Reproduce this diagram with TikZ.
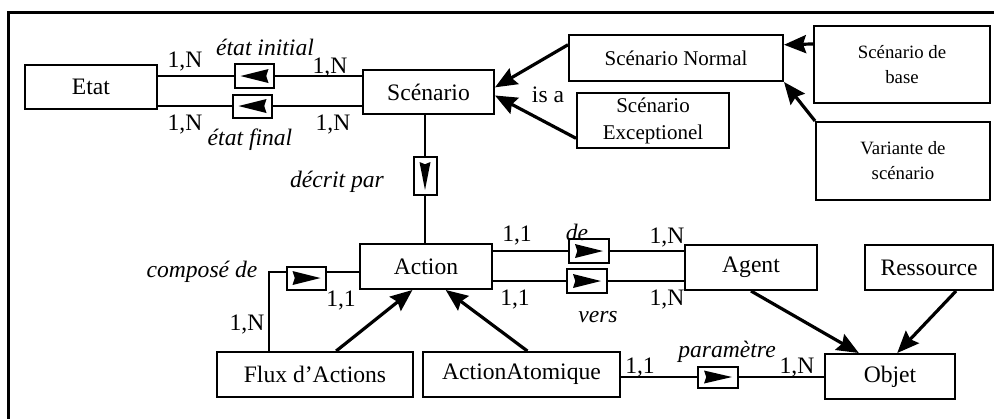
\documentclass[tikz,border=0pt]{standalone}
\usepackage{fontspec}
\setmainfont{Liberation Serif}
\usetikzlibrary{arrows.meta,calc,positioning}
\tikzset{%
	entity/.style  = {draw, rectangle, line width=1pt, inner sep=1pt, align=center, font=\fontsize{11.8}{13}\selectfont},
	entitym/.style = {entity, font=\fontsize{10.5}{13.5}\selectfont},
	entitys/.style = {entity, font=\fontsize{9.4}{12.5}\selectfont},
	relbox/.style  = {draw, rectangle, line width=1pt, inner sep=0pt},
	link/.style    = {line width=0.8pt},
	isa/.style     = {line width=1.6pt, -{Stealth[length=11pt,width=9pt,inset=1.5pt]}},
	card/.style    = {inner sep=0pt, font=\fontsize{11.8}{13}\selectfont},
	role/.style    = {inner sep=0pt, font=\fontsize{11.8}{13}\selectfont\itshape},
}
% filled arrow inside a relation box: node, rotation, length, half width
\newcommand{\relarrow}[4]{%
	\fill[shift={(#1.center)}, rotate=#2] ({#3/2},0) -- ({-#3/2},{#4}) -- ({-0.42*#3},0) -- ({-#3/2},{-#4}) -- cycle;}

\begin{document}
\begin{tikzpicture}[x=0.5pt,y=-0.5pt]
	\useasboundingbox (0,0) rectangle (994,419);
	\draw[line width=1.5pt] (994,12) -- (8,12) -- (8,419);  % frame
	
	% entities
	\node[entity, minimum width=66pt, minimum height=22pt] (etat) at (91,87) {Etat};
	\node[entity, minimum width=65.5pt, minimum height=22pt] (scen) at (428.5,92) {Scénario};
	\node[entitym, minimum width=107pt, minimum height=23pt] (scnorm) at (676,58) {Scénario Normal};
	\node[entitym, minimum width=76pt, minimum height=27.5pt] (scexc) at (653,120.5) {Scénario\\Exceptionel};
	\node[entitys, minimum width=88pt, minimum height=38.5pt] (scbase) at (902,64.5) {Scénario de\\base};
	\node[entitys, minimum width=87pt, minimum height=39pt] (scvar) at (903,161) {Variante de\\scénario};
	\node[entity, minimum width=66pt, minimum height=22.5pt] (action) at (426,266.5) {Action};
	\node[entity, minimum width=66pt, minimum height=22.5pt] (agent) at (751,267.5) {Agent};
	\node[entity, minimum width=64pt, minimum height=22.5pt] (ress) at (929,267.5) {Ressource};
	\node[entity, minimum width=98pt, minimum height=22.5pt] (flux) at (315,374.5) {Flux d’Actions};
	\node[entity, minimum width=98.5pt, minimum height=22.5pt] (atom) at (521.5,374.5) {ActionAtomique};
	\node[entity, minimum width=65pt, minimum height=22.5pt] (objet) at (890,376.5) {Objet};
	
	% relation boxes
	\node[relbox, minimum width=19.5pt, minimum height=12pt] (rinit) at (254.5,76) {};
	\node[relbox, minimum width=19.5pt, minimum height=11.5pt] (rfinal) at (252.5,106) {};
	\node[relbox, minimum width=11.5pt, minimum height=19pt] (rdecrit) at (425,176) {};
	\node[relbox, minimum width=19.5pt, minimum height=11.5pt] (rcomp) at (306.5,278) {};
	\node[relbox, minimum width=20pt, minimum height=12pt] (rde) at (589,251) {};
	\node[relbox, minimum width=20pt, minimum height=12pt] (rvers) at (587,281) {};
	\node[relbox, minimum width=20pt, minimum height=10.5pt] (rparam) at (718,377) {};
	\relarrow{rinit}{180}{28}{7}
	\relarrow{rfinal}{180}{28}{7}
	\relarrow{rdecrit}{-90}{28}{5.5}
	\relarrow{rcomp}{0}{28}{7}
	\relarrow{rde}{0}{28}{7}
	\relarrow{rvers}{0}{28}{7}
	\relarrow{rparam}{0}{28}{6.5}
	
	% associations
	\draw[link] (etat.east |- rinit) -- (rinit.west) (rinit.east) -- (rinit -| scen.west);
	\draw[link] (etat.east |- rfinal) -- (rfinal.west) (rfinal.east) -- (rfinal -| scen.west);
	\draw[link] (scen.south -| rdecrit) -- (rdecrit.north) (rdecrit.south) -- (action.north -| rdecrit);
	\coordinate (ccorner) at (269,272);
	\draw[link] (action.west |- ccorner) -- (rcomp.east |- ccorner) (rcomp.west |- ccorner) -- (ccorner) -- (ccorner |- flux.north);
	\draw[link] (action.east |- rde) -- (rde.west) (rde.east) -- (agent.west |- rde);
	\draw[link] (action.east |- rvers) -- (rvers.west) (rvers.east) -- (agent.west |- rvers);
	\draw[link] (atom.east |- rparam) -- (rparam.west) (rparam.east) -- (objet.west |- rparam);
	
	% is a
	\draw[isa] (scnorm.173) -- (scen.4);
	\draw[isa] (scexc.193) -- (scen.-3);
	\draw[isa] (scbase.167) -- (scnorm.7);
	\draw[isa] (scvar.north west) -- (scnorm.south east);
	\draw[isa] (flux.48) -- (action.240);
	\draw[isa] (atom.76) -- (action.-50);
	\draw[isa] (agent.south) -- (objet.143);
	\draw[isa] (ress.-41) -- (objet.73);
	
	% labels
	\node[card] (c1) at (185,62) {1,N};
	\node[role] (linit) at (265,47) {état initial};
	\node[card] (c2) at (330,68) {1,N};
	\node[card] (c3) at (185,125) {1,N};
	\node[role] (lfinal) at (250,140) {état final};
	\node[card] (c4) at (333,125) {1,N};
	\node[role] (ldecrit) at (337,182) {décrit par};
	\node[card] (lisa) at (548,95) {is a};
	\node[role] (lcomp) at (202,272) {composé de};
	\node[card] (c5) at (341,301) {1,1};
	\node[card] (c6) at (247,325) {1,N};
	\node[card] (c7) at (517,236) {1,1};
	\node[role] (lde) at (577,232) {de};
	\node[card] (c8) at (667,238) {1,N};
	\node[card] (c9) at (515,300) {1,1};
	\node[card] (c10) at (667,300) {1,N};
	\node[role] (lvers) at (598,317) {vers};
	\node[card] (c11) at (640,368) {1,1};
	\node[role] (lparam) at (727,352) {paramètre};
	\node[card] (c12) at (797,368) {1,N};
\end{tikzpicture}
\end{document}
